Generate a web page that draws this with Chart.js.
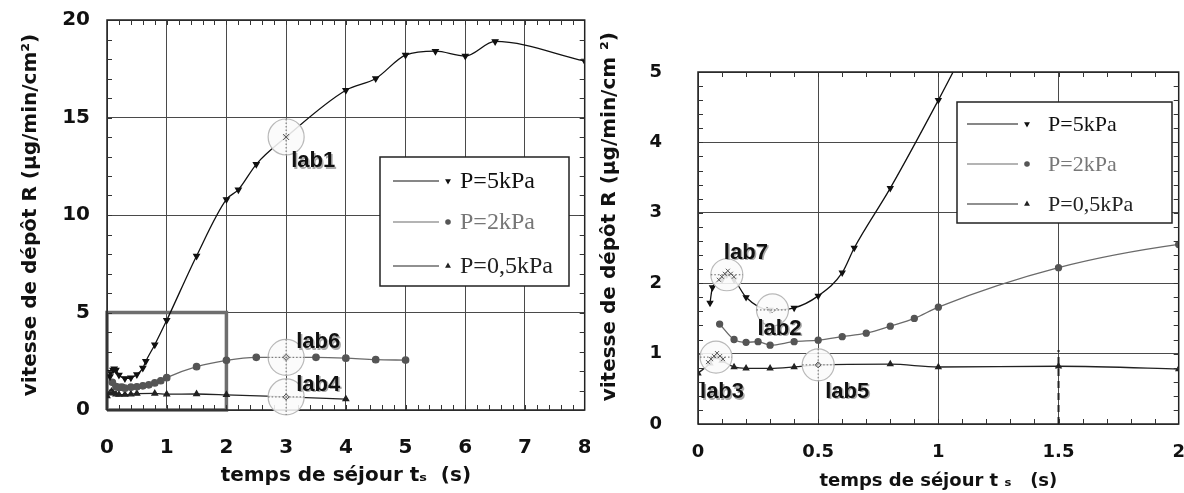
<!DOCTYPE html>
<html><head><meta charset="utf-8">
<script src="https://cdn.jsdelivr.net/npm/chart.js@4.4.0/dist/chart.umd.min.js"></script>
<style>
html,body{margin:0;padding:0;background:#fff;}
#wrap{position:relative;width:1184px;height:493px;overflow:hidden;background:#fff;}
#c1{position:absolute;left:0;top:0;}
#c2{position:absolute;left:590px;top:0;}
</style></head><body>
<div id="wrap">
<canvas id="c1" width="590" height="493"></canvas>
<canvas id="c2" width="594" height="493"></canvas>
</div>
<script>
// ---------- data ----------
const seriesLabels = ['P=5kPa', 'P=2kPa', 'P=0,5kPa'];

const t5  = [0.05, 0.06, 0.1, 0.12, 0.15, 0.2, 0.3, 0.4, 0.5, 0.6, 0.65, 0.8, 1.0, 1.5, 2.0, 2.2, 2.5, 3.0, 4.0, 4.5, 5.0, 5.5, 6.0, 6.5, 8.0];
const r5  = [1.72, 1.94, 2.05, 2.12, 2.05, 1.8, 1.62, 1.65, 1.82, 2.15, 2.5, 3.35, 4.6, 7.9, 10.8, 11.3, 12.6, 14.0, 16.4, 17.0, 18.2, 18.4, 18.15, 18.9, 17.9];

const t2  = [0.09, 0.15, 0.2, 0.25, 0.3, 0.4, 0.5, 0.6, 0.7, 0.8, 0.9, 1.0, 1.5, 2.0, 2.5, 3.0, 3.5, 4.0, 4.5, 5.0];
const r2  = [1.42, 1.2, 1.16, 1.17, 1.12, 1.17, 1.19, 1.24, 1.29, 1.39, 1.5, 1.66, 2.22, 2.55, 2.7, 2.7, 2.7, 2.66, 2.58, 2.56];

const t05 = [0.0, 0.05, 0.075, 0.1, 0.15, 0.2, 0.3, 0.4, 0.5, 0.8, 1.0, 1.5, 2.0, 3.0, 4.0];
const r05 = [0.72, 0.86, 0.95, 0.9, 0.81, 0.79, 0.79, 0.81, 0.84, 0.85, 0.81, 0.82, 0.78, 0.67, 0.56];

// zoom frame drawn on the left panel (t 0..2, R 0..5)
const boxT = [0, 0, 2, 2, 0];
const boxR = [0, 5, 5, 0, 0];
// dashed marker line on the right panel
const dashT = [1.5, 1.5];
const dashR = [0, 1.05];

// labelled sampling points
const labNames = ['lab1', 'lab6', 'lab4', 'lab7', 'lab2', 'lab3', 'lab5'];
const labPanel = [0, 0, 0, 1, 1, 1, 1];
const labT     = [3, 3, 3, 0.12, 0.31, 0.075, 0.5];
const labR     = [14.0, 2.7, 0.67, 2.12, 1.62, 0.95, 0.84];

// tick labels
const leftXTicks  = [0, 1, 2, 3, 4, 5, 6, 7, 8];
const leftYTicks  = [0, 5, 10, 15, 20];
const rightXTicks = [0, 0.5, 1, 1.5, 2];
const rightYTicks = [0, 1, 2, 3, 4, 5];

const xTitleLeft  = 'temps de séjour tₛ  (s)';
const xTitleRight = 'temps de séjour t ₛ   (s)';
const yTitle      = 'vitesse de dépôt R (µg/min/cm²)';
const yTitleRight = '         vitesse de dépôt R (µg/min/cm ²)';

// ---------- styling (not data) ----------
const labStyle = {
  lab1: {dx: 5,  dy: 30, cross: 'v',  mark: 'x'},
  lab6: {dx: 10, dy: -9, cross: 'hv', mark: 'd'},
  lab4: {dx: 10, dy: -6, cross: 'hv', mark: 'd'},
  lab7: {dx: -3, dy: -16, cross: 'h', mark: 'xx'},
  lab2: {dx: -15, dy: 25, cross: 'h', mark: 'v'},
  lab3: {dx: -16, dy: 41, cross: 'h', mark: 'xx'},
  lab5: {dx: 7,  dy: 33, cross: 'hv', mark: 'd'}
};
const seriesStyle = [
  {line: '#111', point: '#111', style: 'triangle', rot: 180, text: '#111'},
  {line: '#6a6a6a', point: '#555', style: 'circle', rot: 0, text: '#777'},
  {line: '#222', point: '#222', style: 'triangle', rot: 0, text: '#222'}
];

function line(ctx, x1, y1, x2, y2) { ctx.beginPath(); ctx.moveTo(x1, y1); ctx.lineTo(x2, y2); ctx.stroke(); }

const decoPlugin = {
  id: 'deco',
  afterDatasetsDraw(chart, args, o) {
    const {ctx, chartArea: a, scales: {x, y}} = chart;
    ctx.save();
    // frame
    ctx.strokeStyle = '#222'; ctx.lineWidth = 1.5;
    ctx.strokeRect(a.left, a.top, a.right - a.left, a.bottom - a.top);
    // minor ticks on all four sides
    ctx.lineWidth = 1; ctx.strokeStyle = '#333';
    const nx = Math.round((x.max - x.min) / o.xMinor);
    for (let i = 1; i < nx; i++) {
      const px = Math.round(x.getPixelForValue(x.min + i * o.xMinor)) + 0.5;
      line(ctx, px, a.bottom, px, a.bottom - 5);
      line(ctx, px, a.top, px, a.top + 5);
    }
    const ny = Math.round((y.max - y.min) / o.yMinor);
    for (let i = 1; i < ny; i++) {
      const py = Math.round(y.getPixelForValue(y.min + i * o.yMinor)) + 0.5;
      line(ctx, a.left, py, a.left + 5, py);
      line(ctx, a.right, py, a.right - 5, py);
    }
    // lab circles
    labNames.forEach((name, i) => {
      if (labPanel[i] !== o.panel) return;
      const st = labStyle[name];
      const cx = x.getPixelForValue(labT[i]);
      const cy = y.getPixelForValue(labR[i]);
      const r = o.labR;
      ctx.beginPath(); ctx.arc(cx, cy, r, 0, Math.PI * 2);
      ctx.fillStyle = 'rgba(250,250,250,0.88)'; ctx.fill();
      ctx.strokeStyle = '#b9b9b9'; ctx.lineWidth = 1.2; ctx.stroke();
      ctx.setLineDash([1.5, 2]); ctx.strokeStyle = '#666'; ctx.lineWidth = 1;
      if (st.cross.includes('v')) line(ctx, cx, cy - r, cx, cy + r);
      if (st.cross.includes('h')) line(ctx, cx - r, cy, cx + r, cy);
      ctx.setLineDash([]);
      ctx.strokeStyle = '#555'; ctx.lineWidth = 1;
      if (st.mark === 'x') { line(ctx, cx - 3, cy - 3, cx + 3, cy + 3); line(ctx, cx - 3, cy + 3, cx + 3, cy - 3); }
      if (st.mark === 'xx') {
        [[-8, 5], [-5, 2], [-2, -1], [1, -4], [4, -1], [7, 2]].forEach(([ox, oy]) => {
          line(ctx, cx + ox - 2, cy + oy - 2, cx + ox + 2, cy + oy + 2);
          line(ctx, cx + ox - 2, cy + oy + 2, cx + ox + 2, cy + oy - 2);
        });
      }
      if (st.mark === 'd') { ctx.beginPath(); ctx.moveTo(cx, cy - 3); ctx.lineTo(cx + 3, cy); ctx.lineTo(cx, cy + 3); ctx.lineTo(cx - 3, cy); ctx.closePath(); ctx.stroke(); }
      if (st.mark === 'v') { ctx.setLineDash([1.5, 2]); ctx.beginPath(); ctx.moveTo(cx - 6, cy - 3); ctx.lineTo(cx, cy + 3); ctx.lineTo(cx + 6, cy - 3); ctx.stroke(); ctx.setLineDash([]); }
      ctx.font = 'bold 22px "Liberation Sans", Arial, sans-serif';
      ctx.textAlign = 'left'; ctx.textBaseline = 'alphabetic';
      ctx.fillStyle = '#aaa'; ctx.fillText(name, cx + st.dx + 1.5, cy + st.dy + 1.5);
      ctx.fillStyle = '#111'; ctx.fillText(name, cx + st.dx, cy + st.dy);
    });
    // legend box
    const L = o.legend;
    const bx = a.left + L.x, by = a.top + L.y;
    ctx.fillStyle = '#fff'; ctx.fillRect(bx, by, L.w, L.h);
    ctx.strokeStyle = '#222'; ctx.lineWidth = 1.5; ctx.strokeRect(bx, by, L.w, L.h);
    seriesLabels.forEach((lab, i) => {
      const s = seriesStyle[i];
      const ry = by + L.rows[i];
      ctx.strokeStyle = s.line; ctx.lineWidth = 1.2;
      line(ctx, bx + L.lx1, ry, bx + L.lx2, ry);
      ctx.fillStyle = s.point; ctx.strokeStyle = s.point;
      Chart.helpers.drawPoint(ctx, {pointStyle: s.style, rotation: s.rot, radius: 2.2, borderWidth: 1}, bx + L.mx, ry);
      ctx.fillStyle = s.text;
      ctx.font = L.font + 'px "Liberation Serif", "Times New Roman", serif';
      ctx.textAlign = 'left'; ctx.textBaseline = 'middle';
      ctx.fillText(lab, bx + L.tx, ry + 1);
    });
    ctx.restore();
  }
};

function seriesDatasets(radius) {
  const ts = [t5, t2, t05], rs = [r5, r2, r05];
  return seriesLabels.map((lab, i) => ({
    label: lab,
    data: ts[i].map((t, k) => ({x: t, y: rs[i][k]})),
    borderColor: seriesStyle[i].line,
    backgroundColor: seriesStyle[i].point,
    pointBorderColor: seriesStyle[i].point,
    pointBackgroundColor: seriesStyle[i].point,
    pointStyle: seriesStyle[i].style,
    pointRotation: seriesStyle[i].rot,
    pointRadius: radius,
    borderWidth: 1.3,
    cubicInterpolationMode: 'monotone',
    showLine: true,
    fill: false
  }));
}

function makeChart(id, P) {
  const ds = seriesDatasets(P.pointR).concat(P.extra);
  new Chart(document.getElementById(id), {
    type: 'scatter',
    data: {datasets: ds},
    plugins: [decoPlugin],
    options: {
      responsive: false, animation: false, events: [],
      layout: {padding: {left: 0, top: P.padTop, right: P.padRight, bottom: 0}},
      plugins: {
        legend: {display: false}, tooltip: {enabled: false},
        deco: P.deco
      },
      scales: {
        x: {
          type: 'linear', min: P.xMin, max: P.xMax,
          afterBuildTicks: s => { s.ticks = P.xTicks.map(v => ({value: v})); },
          afterFit: s => { s.height = P.xH; s.paddingLeft = 0; s.paddingRight = 0; },
          grid: {color: '#4a4a4a', lineWidth: 1, drawTicks: false},
          border: {display: false},
          ticks: {padding: P.xTickPad, autoSkip: false, maxRotation: 0, color: '#111',
                  font: {family: 'DejaVu Sans', weight: 'bold', size: P.tickSize},
                  callback: v => String(v)},
          title: {display: true, text: P.xTitle, color: '#111',
                  font: {family: 'DejaVu Sans', weight: 'bold', size: P.xTitleSize},
                  padding: {top: 0, bottom: P.xTitlePad}}
        },
        y: {
          type: 'linear', min: P.yMin, max: P.yMax,
          afterBuildTicks: s => { s.ticks = P.yTicks.map(v => ({value: v})); },
          afterFit: s => { s.width = P.yW; s.paddingTop = 0; s.paddingBottom = 0; },
          grid: {color: '#4a4a4a', lineWidth: 1, drawTicks: false},
          border: {display: false},
          ticks: {padding: P.yTickPad, autoSkip: false, color: '#111',
                  font: {family: 'DejaVu Sans', weight: 'bold', size: P.tickSize},
                  callback: v => String(v)},
          title: {display: true, text: P.yTitle, color: '#111',
                  font: {family: 'DejaVu Sans', weight: 'bold', size: 20},
                  padding: {top: P.yTitlePad, bottom: 0}}
        }
      }
    }
  });
}

makeChart('c1', {
  xMin: 0, xMax: 8, yMin: 0, yMax: 20, xTicks: leftXTicks, yTicks: leftYTicks,
  padTop: 20, padRight: 3, yW: 107, xH: 83, pointR: 3.2,
  tickSize: 20, xTickPad: 26, yTickPad: 17,
  xTitle: xTitleLeft, xTitleSize: 20, xTitlePad: 5,
  yTitle: yTitle, yTitlePad: 19,
  extra: [{
    label: 'zoom', data: boxT.map((t, k) => ({x: t, y: boxR[k]})),
    borderColor: '#6e6e6e', borderWidth: 3.5, pointRadius: 0, showLine: true, tension: 0, clip: false
  }],
  deco: {panel: 0, xMinor: 0.2, yMinor: 1, labR: 18,
         legend: {x: 273, y: 137, w: 189, h: 129, rows: [24, 65, 109], lx1: 13, lx2: 59, mx: 68, tx: 80, font: 24}}
});

makeChart('c2', {
  xMin: 0, xMax: 2, yMin: 0, yMax: 5, xTicks: rightXTicks, yTicks: rightYTicks,
  padTop: 72, padRight: 5, yW: 108, xH: 69, pointR: 3,
  tickSize: 18, xTickPad: 18, yTickPad: 36,
  xTitle: xTitleRight, xTitleSize: 18, xTitlePad: 1,
  yTitle: yTitleRight, yTitlePad: 8,
  extra: [{
    label: 'mark', data: dashT.map((t, k) => ({x: t, y: dashR[k]})),
    borderColor: '#222', borderWidth: 2, borderDash: [7, 5], pointRadius: 0, showLine: true, tension: 0
  }],
  deco: {panel: 1, xMinor: 0.1, yMinor: 0.2, labR: 16,
         legend: {x: 259, y: 30, w: 215, h: 121, rows: [22, 62, 102], lx1: 10, lx2: 61, mx: 70, tx: 91, font: 22}}
});
</script>
</body></html>
